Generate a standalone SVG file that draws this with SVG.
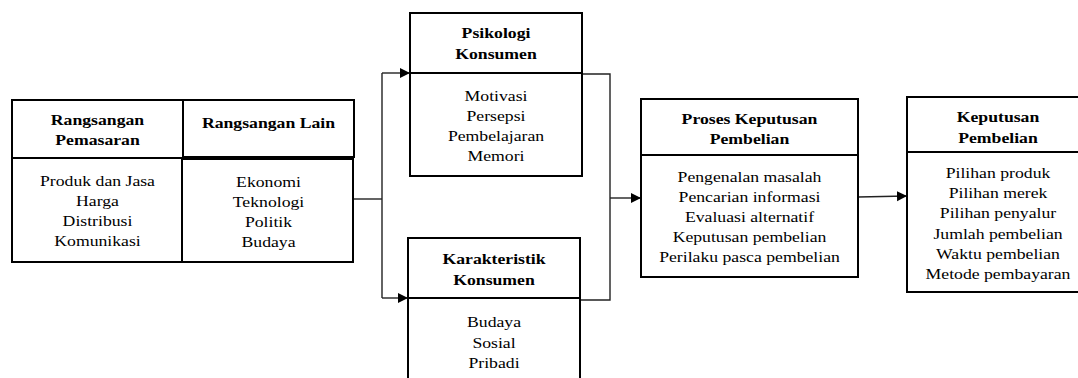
<svg xmlns="http://www.w3.org/2000/svg" width="1078" height="378" viewBox="0 0 1078 378">
<defs>
<style>
.box{fill:#fff;stroke:#000;stroke-width:2}
.div{stroke:#000;stroke-width:2}
text{font-family:'Liberation Serif','DejaVu Serif',serif;font-size:15px;text-anchor:middle;fill:#000}
.t{font-weight:bold}
.c{fill:none;stroke:#222;stroke-width:1.4}
</style>
<marker id="ah" markerUnits="userSpaceOnUse" markerWidth="11" markerHeight="11" refX="10" refY="5" orient="auto">
<path d="M0,0 L10,5 L0,10 z" fill="#000"/>
</marker>
</defs>
<rect width="1078" height="378" fill="#fff"/>

<g id="connectors">
<path class="c" d="M354,199 H382"/>
<path class="c" d="M382,73 V298"/>
<path class="c" d="M382,73 H410" marker-end="url(#ah)"/>
<path class="c" d="M382,298 H408" marker-end="url(#ah)"/>
<path class="c" d="M582,74 H610 V300 H580"/>
<path class="c" d="M610,198 H641" marker-end="url(#ah)"/>
<path class="c" d="M858,197 L907,196" marker-end="url(#ah)"/>
</g>

<g id="rangsangan-pemasaran">
<rect class="box" x="12" y="100" width="171" height="162"/>
<line class="div" x1="12" y1="158" x2="183" y2="158"/>
<g transform="translate(97.5 0) scale(1.18 1)" font-family="Liberation Serif, serif">
<text class="t" x="0" y="125">Rangsangan</text>
<text class="t" x="0" y="145">Pemasaran</text>
<text class="b" x="0" y="186">Produk dan Jasa</text>
<text class="b" x="0" y="206">Harga</text>
<text class="b" x="0" y="226">Distribusi</text>
<text class="b" x="0" y="246">Komunikasi</text>
</g>
</g>

<g id="rangsangan-lain">
<rect class="box" x="183" y="100" width="171" height="57"/>
<rect class="box" x="182" y="159" width="171" height="103"/>
<g transform="translate(268.5 0) scale(1.18 1)">
<text class="t" x="0" y="128">Rangsangan Lain</text>
<text class="b" x="0" y="187">Ekonomi</text>
<text class="b" x="0" y="207">Teknologi</text>
<text class="b" x="0" y="227">Politik</text>
<text class="b" x="0" y="247">Budaya</text>
</g>
</g>

<g id="psikologi-konsumen">
<rect class="box" x="410" y="13" width="172" height="163"/>
<line class="div" x1="410" y1="73" x2="582" y2="73"/>
<g transform="translate(496 0) scale(1.18 1)">
<text class="t" x="0" y="38">Psikologi</text>
<text class="t" x="0" y="59">Konsumen</text>
<text class="b" x="0" y="101">Motivasi</text>
<text class="b" x="0" y="121">Persepsi</text>
<text class="b" x="0" y="141">Pembelajaran</text>
<text class="b" x="0" y="161">Memori</text>
</g>
</g>

<g id="karakteristik-konsumen">
<rect class="box" x="408" y="238" width="172" height="160"/>
<line class="div" x1="408" y1="298" x2="580" y2="298"/>
<g transform="translate(494 0) scale(1.18 1)">
<text class="t" x="0" y="264">Karakteristik</text>
<text class="t" x="0" y="285">Konsumen</text>
<text class="b" x="0" y="327">Budaya</text>
<text class="b" x="0" y="348">Sosial</text>
<text class="b" x="0" y="368">Pribadi</text>
</g>
</g>

<g id="proses-keputusan-pembelian">
<rect class="box" x="641" y="99" width="217" height="178"/>
<line class="div" x1="641" y1="155" x2="858" y2="155"/>
<g transform="translate(749.5 0) scale(1.18 1)">
<text class="t" x="0" y="124">Proses Keputusan</text>
<text class="t" x="0" y="144">Pembelian</text>
<text class="b" x="0" y="182">Pengenalan masalah</text>
<text class="b" x="0" y="202">Pencarian informasi</text>
<text class="b" x="0" y="222">Evaluasi alternatif</text>
<text class="b" x="0" y="242">Keputusan pembelian</text>
<text class="b" x="0" y="262">Perilaku pasca pembelian</text>
</g>
</g>

<g id="keputusan-pembelian">
<rect class="box" x="907" y="97" width="181" height="195"/>
<line class="div" x1="907" y1="152" x2="1088" y2="152"/>
<g transform="translate(998 0) scale(1.18 1)">
<text class="t" x="0" y="122">Keputusan</text>
<text class="t" x="0" y="143">Pembelian</text>
<text class="b" x="0" y="178">Pilihan produk</text>
<text class="b" x="0" y="198">Pilihan merek</text>
<text class="b" x="0" y="218">Pilihan penyalur</text>
<text class="b" x="0" y="239">Jumlah pembelian</text>
<text class="b" x="0" y="259">Waktu pembelian</text>
<text class="b" x="0" y="279">Metode pembayaran</text>
</g>
</g>
</svg>
